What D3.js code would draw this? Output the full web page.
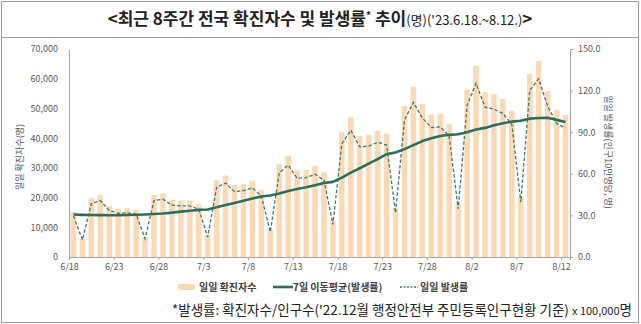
<!DOCTYPE html>
<html><head><meta charset="utf-8">
<script src="https://cdn.jsdelivr.net/npm/d3@7"></script>
<style>
html,body{margin:0;padding:0;background:#fff;}
svg text{font-family:"Noto Sans CJK KR","Noto Sans",sans-serif;}
</style></head>
<body>
<svg id="c" width="641" height="324"></svg>
<script>
const categories = ["6/18","6/19","6/20","6/21","6/22","6/23","6/24","6/25","6/26","6/27","6/28","6/29","6/30",
"7/1","7/2","7/3","7/4","7/5","7/6","7/7","7/8","7/9","7/10","7/11","7/12","7/13","7/14","7/15","7/16","7/17",
"7/18","7/19","7/20","7/21","7/22","7/23","7/24","7/25","7/26","7/27","7/28","7/29","7/30","7/31",
"8/1","8/2","8/3","8/4","8/5","8/6","8/7","8/8","8/9","8/10","8/11","8/12"];
const dailyCases = [15250,6300,19800,20900,17200,16200,16400,15900,6800,20900,21400,19300,19000,19000,17700,7400,
25800,27400,24200,24600,25600,22600,9300,31200,34100,29200,29400,30700,28500,12100,
42000,47000,40800,41100,42500,41500,16400,50800,57300,51500,48000,48200,44700,17900,
56200,64400,55500,54800,53200,49200,20300,61700,66000,55900,49500,47800];
const dailyRate = [29.6,12.3,38.5,40.7,33.5,31.5,31.9,30.9,13.2,40.7,41.6,37.5,36.9,36.9,34.4,14.4,
50.2,53.3,47.1,47.9,49.8,44.0,18.1,60.7,66.3,56.8,57.2,59.7,55.4,23.5,
81.7,91.4,79.4,80.0,82.7,80.7,31.9,98.8,111.5,100.2,93.4,93.8,87.0,34.8,
109.3,125.3,108.0,106.6,103.5,95.7,39.5,120.0,128.4,108.8,96.3,93.0];
const avg7Rate = [30.6,30.4,30.3,30.2,30.1,30.1,30.3,30.5,30.7,31.0,31.4,32.0,32.7,33.4,34.0,34.3,
35.8,37.5,39.0,40.6,42.2,43.6,44.3,45.8,47.6,49.0,50.3,51.8,53.4,54.2,
57.2,60.8,64.0,67.3,70.6,74.2,75.4,77.8,80.7,83.6,85.6,87.2,88.1,88.5,
90.0,92.0,93.1,95.0,96.4,97.6,98.3,99.8,100.2,100.4,98.9,97.4];
const xTickLabels = ["6/18","6/23","6/28","7/3","7/8","7/13","7/18","7/23","7/28","8/2","8/7","8/12"];
const leftTicks = [0,10000,20000,30000,40000,50000,60000,70000];
const rightTicks = [0,30,60,90,120,150];

const svg = d3.select("#c");
const L = 69, R = 570, T = 49, B = 257;
const grey = "#a6a6a6", txt = "#595959";

// frame
svg.append("rect").attr("x",1.5).attr("y",1.5).attr("width",637).attr("height",321)
  .attr("fill","none").attr("stroke","#9a9a9a").attr("stroke-width",1);
svg.append("line").attr("x1",1.5).attr("x2",638.5).attr("y1",37.5).attr("y2",37.5)
  .attr("stroke","#9a9a9a").attr("stroke-width",1);

// title
const title = svg.append("text").attr("x",320).attr("y",25).attr("text-anchor","middle").attr("fill","#222");
title.append("tspan").attr("font-size",17).attr("font-weight","bold").text("<최근 8주간 전국 확진자수 및 발생률");
title.append("tspan").attr("font-size",10).attr("font-weight","bold").attr("dy",-6).text("*");
title.append("tspan").attr("font-size",17).attr("font-weight","bold").attr("dy",6).text(" 추이");
title.append("tspan").attr("font-size",13).text("(명)('23.6.18.~8.12.)");
title.append("tspan").attr("font-size",17).attr("font-weight","bold").text(">");

const x = d3.scaleBand().domain(categories).range([L,R]).paddingInner(0.38).paddingOuter(0.19);
const xt = d3.scaleLinear().domain([0,categories.length]).range([L,R]);
const yL = d3.scaleLinear().domain([0,70000]).range([B,T]);
const yR = d3.scaleLinear().domain([0,150]).range([B,T]);

// bars
svg.append("g").selectAll("rect").data(dailyCases).join("rect")
  .attr("x",(d,i)=>x(categories[i])).attr("width",x.bandwidth())
  .attr("y",d=>yL(d)).attr("height",d=>B-yL(d)).attr("fill","#fad9b4");

// axes
const ax = svg.append("g").attr("transform",`translate(0,${B})`)
  .call(d3.axisBottom(xt).tickValues(d3.range(0,56,5)).tickSize(3).tickPadding(4)
    .tickFormat((d,i)=>xTickLabels[i]));
const al = svg.append("g").attr("transform",`translate(${L},0)`)
  .call(d3.axisLeft(yL).tickValues(leftTicks).tickSize(0).tickPadding(11).tickFormat(d3.format(",")));
const ar = svg.append("g").attr("transform",`translate(${R},0)`)
  .call(d3.axisRight(yR).tickValues(rightTicks).tickSize(3).tickPadding(5).tickFormat(d3.format(".1f")));
[ax,al,ar].forEach(g=>{
  g.select(".domain").attr("stroke",grey);
  g.selectAll(".tick line").attr("stroke",grey);
  g.selectAll(".tick text").attr("fill",txt).attr("font-size",9)
    .attr("font-family","'Noto Sans','DejaVu Sans',sans-serif");
});

// lines
const cx = i => x(categories[i]) + x.bandwidth()/2;
const lineR = d3.line().x((d,i)=>cx(i)).y(d=>yR(d));
svg.append("path").datum(dailyRate).attr("d",lineR).attr("fill","none")
  .attr("stroke","#3f7b6c").attr("stroke-width",1.3).attr("stroke-dasharray","3.5,2");
svg.append("path").datum(avg7Rate).attr("d",lineR).attr("fill","none")
  .attr("stroke","#2e6d5a").attr("stroke-width",2.6).attr("stroke-linejoin","round");

// axis titles
svg.append("text").attr("transform","translate(23,157) rotate(-90)").attr("text-anchor","middle")
  .attr("font-size",9).attr("fill",txt).text("일일 확진자수(명)");
svg.append("text").attr("transform","translate(605,152) rotate(90)").attr("text-anchor","middle")
  .attr("font-size",9).attr("fill",txt).text("일일 발생률(인구10만명당, 명)");

// legend
const lg = svg.append("g");
lg.append("rect").attr("x",178).attr("y",284).attr("width",17).attr("height",6).attr("fill","#fad9b4");
lg.append("text").attr("x",199).attr("y",291).attr("font-size",10).attr("font-weight","bold").attr("fill","#404040").text("일일 확진자수");
lg.append("line").attr("x1",273).attr("x2",293).attr("y1",287).attr("y2",287).attr("stroke","#2e6d5a").attr("stroke-width",2.6);
lg.append("text").attr("x",293).attr("y",291).attr("font-size",10).attr("font-weight","bold").attr("fill","#404040").text("7일 이동평균(발생률)");
lg.append("line").attr("x1",400).attr("x2",418).attr("y1",287).attr("y2",287).attr("stroke","#3f7b6c").attr("stroke-width",1.3).attr("stroke-dasharray","2,1.5");
lg.append("text").attr("x",420).attr("y",291).attr("font-size",10).attr("font-weight","bold").attr("fill","#404040").text("일일 발생률");

// footnote
const fn = svg.append("text").attr("x",632).attr("y",315).attr("text-anchor","end").attr("fill","#222").attr("font-size",13.5);
fn.append("tspan").text("*발생률: 확진자수/인구수('22.12월 행정안전부 주민등록인구현황 기준) ");
fn.append("tspan").attr("font-size",11).text("x 100,000");
fn.append("tspan").text("명");
</script>
</body></html>
